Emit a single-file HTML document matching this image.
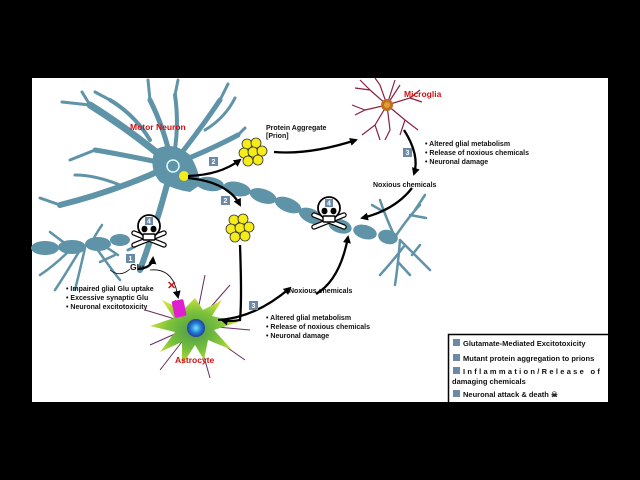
<!DOCTYPE html>
<html><head><style>
body{margin:0;background:#000;}
svg{display:block;font-family:"Liberation Sans",sans-serif;}
</style></head><body>
<svg width="640" height="480" viewBox="0 0 640 480">
<defs>
<marker id="ah" markerWidth="8" markerHeight="8" refX="6" refY="4" orient="auto" markerUnits="userSpaceOnUse"><path d="M0,0 L8,4 L0,8 Z" fill="#000"/></marker>
<radialGradient id="ag" cx="50%" cy="50%" r="50%"><stop offset="0" stop-color="#4a9a4a"/><stop offset="0.6" stop-color="#7cc23a"/><stop offset="1" stop-color="#c8e040"/></radialGradient>
<radialGradient id="nuc" cx="50%" cy="50%" r="50%"><stop offset="0" stop-color="#7ee0ff"/><stop offset="0.6" stop-color="#1a7ad0"/><stop offset="1" stop-color="#2a3a9a"/></radialGradient>
<g id="skull"><path d="M-15,6 L15,18 M-15,18 L15,6" stroke="#000" stroke-width="5.5" stroke-linecap="round"/><path d="M-15,6 L15,18 M-15,18 L15,6" stroke="#fff" stroke-width="3" stroke-linecap="round"/><ellipse cx="0" cy="-1" rx="11" ry="11" fill="#fff" stroke="#000" stroke-width="1.8"/><rect x="-6" y="7" width="12" height="6" rx="1" fill="#fff" stroke="#000" stroke-width="1.4"/><ellipse cx="-4.5" cy="2" rx="3" ry="3.3" fill="#000"/><ellipse cx="4.5" cy="2" rx="3" ry="3.3" fill="#000"/><rect x="-4" y="-10" width="8" height="8" fill="#6a8aa8"/><text x="0" y="-3.5" font-size="7" fill="#fff" text-anchor="middle" font-weight="bold">4</text></g>
<g id="agg" fill="#f5ec1a" stroke="#333" stroke-width="0.8"><circle cx="-6" cy="-8" r="5"/><circle cx="3" cy="-9" r="5"/><circle cx="-9" cy="1" r="5"/><circle cx="0" cy="0" r="5"/><circle cx="9" cy="-1" r="5"/><circle cx="-5" cy="9" r="5"/><circle cx="5" cy="8" r="5"/></g>
</defs>
<rect x="32" y="78" width="576" height="324" fill="#fff"/>
<!-- neuron -->
<g stroke="#5e93a8" fill="none" stroke-linecap="round" stroke-linejoin="round">
<path d="M172,165 Q130,130 90,105" stroke-width="7"/>
<path d="M172,165 Q125,155 95,150" stroke-width="5"/>
<path d="M150,140 Q135,115 110,100" stroke-width="4"/>
<path d="M172,165 Q120,190 60,205" stroke-width="6"/>
<path d="M120,185 Q95,175 75,175" stroke-width="3"/>
<path d="M172,165 Q165,130 150,100" stroke-width="5"/>
<path d="M172,165 Q180,130 175,95" stroke-width="4"/>
<path d="M172,165 Q200,130 220,100" stroke-width="5"/>
<path d="M205,130 Q225,118 235,98" stroke-width="3"/>
<path d="M172,165 Q210,150 238,135" stroke-width="5"/>
<path d="M172,165 Q160,215 140,270" stroke-width="6"/>
<path d="M155,230 Q140,245 128,250" stroke-width="3"/>
<path d="M90,105 L62,102 M95,150 L70,160 M60,205 L40,198 M150,100 L148,80 M175,95 L178,80 M220,100 L228,84 M110,100 L95,92 M90,105 L82,92 M238,135 L245,128" stroke-width="3"/>
<path d="M70,250 Q55,265 40,275 M85,248 Q80,270 75,290 M95,246 Q108,265 120,280 M80,250 Q65,275 55,290 M100,243 L118,255 M72,248 Q60,240 50,232 M90,246 Q95,235 102,225 M100,262 L115,255" stroke-width="2.5"/>
<path d="M395,237 Q410,215 420,205 M400,240 Q418,258 430,270 M400,240 Q398,265 395,285 M405,245 Q392,262 380,275 M395,237 Q386,218 380,200 M415,210 L425,195 M410,215 L426,218 M412,255 L420,245 M398,262 L410,275 M384,212 L372,205" stroke-width="2.5"/>
</g>
<path d="M155,150 Q172,140 190,155 Q200,172 200,185 L190,192 Q175,190 160,182 Q148,168 155,150 Z" fill="#5e93a8"/>
<g fill="#5e93a8">
<ellipse cx="210" cy="184" rx="14" ry="7" transform="rotate(8 210 184)"/>
<ellipse cx="237" cy="189" rx="14" ry="7" transform="rotate(12 237 189)"/>
<ellipse cx="263" cy="196" rx="14" ry="7" transform="rotate(18 263 196)"/>
<ellipse cx="288" cy="205" rx="14" ry="7" transform="rotate(22 288 205)"/>
<ellipse cx="311" cy="216" rx="13" ry="7" transform="rotate(25 311 216)"/>
<ellipse cx="340" cy="226" rx="12" ry="7" transform="rotate(18 340 226)"/>
<ellipse cx="365" cy="232" rx="12" ry="7" transform="rotate(15 365 232)"/>
<ellipse cx="388" cy="237" rx="10" ry="7" transform="rotate(15 388 237)"/>
<ellipse cx="45" cy="248" rx="14" ry="7"/>
<ellipse cx="72" cy="247" rx="14" ry="7"/>
<ellipse cx="98" cy="244" rx="13" ry="7"/>
<ellipse cx="120" cy="240" rx="10" ry="6"/>
</g>
<circle cx="173" cy="166" r="6" fill="none" stroke="#dff" stroke-width="1.5"/>
<circle cx="184" cy="176" r="5" fill="#f5ec1a"/>
<text x="130" y="130" font-size="8.5" font-weight="bold" fill="#d01010">Motor Neuron</text>
<!-- microglia -->
<g stroke="#8a2040" stroke-width="1.2" fill="none">
<path d="M387,105 L370,90 L355,88 M387,105 L380,85 L375,78 M387,105 L400,85 M387,105 L410,98 L420,90 M387,105 L365,110 L355,115 M387,105 L375,125 L362,135 M387,105 L390,130 L385,140 M387,105 L405,120 L418,130 M387,105 L395,80 M370,90 L360,80 M375,125 L380,140 M405,120 L400,135 M365,110 L352,105 M410,98 L422,102"/>
</g>
<circle cx="387" cy="105" r="6" fill="#c07020"/>
<circle cx="387" cy="105" r="3" fill="#e0a030"/>
<text x="404" y="97" font-size="8.5" font-weight="bold" fill="#d01010">Microglia</text>
<!-- astrocyte -->
<g stroke="#6a2a60" stroke-width="1" fill="none">
<path d="M195,325 L145,310 M195,325 L150,345 M195,325 L160,370 M195,325 L210,378 M195,325 L245,360 M195,325 L250,330 M195,325 L230,285 M195,325 L205,275 M195,325 L175,300"/>
</g>
<path d="M195,298 L203,310 L222,300 L212,316 L238,322 L214,330 L232,350 L208,340 L204,360 L195,345 L182,365 L182,342 L160,352 L175,332 L150,326 L174,318 L162,300 L183,310 Z" fill="url(#ag)"/>
<circle cx="196" cy="328" r="9" fill="url(#nuc)"/>
<rect x="173" y="300" width="12" height="17" rx="2" fill="#e020d0" transform="rotate(-12 179 308)"/>
<text x="175" y="363" font-size="8.5" font-weight="bold" fill="#d01010">Astrocyte</text>
<!-- aggregates -->
<use href="#agg" x="253" y="152"/>
<use href="#agg" x="240" y="228"/>
<!-- skulls -->
<use href="#skull" x="149" y="227"/>
<use href="#skull" x="329" y="209"/>
<!-- arrows -->
<g stroke="#000" stroke-width="2.3" fill="none" marker-end="url(#ah)">
<path d="M188,176 Q220,175 240,160"/>
<path d="M188,178 Q228,182 240,205"/>
<path d="M274,152 Q310,155 356,140"/>
<path d="M404,130 Q420,155 414,174"/>
<path d="M412,188 Q395,210 362,218"/>
<path d="M240,245 Q242,300 240,320 Q230,322 222,320" />
<path d="M218,320 Q255,318 290,288"/>
<path d="M316,294 Q340,280 348,237"/>
<path d="M138,269 Q152,268 153,258"/>
</g>
<path d="M110,270 Q120,278 130,269" stroke="#000" stroke-width="0.8" fill="none"/>
<path d="M150,270 Q170,268 176,288 L178,297" stroke="#000" stroke-width="0.8" fill="none" marker-end="url(#ah)"/>
<text x="167" y="289" font-size="11" font-weight="bold" fill="#d01010">✕</text>
<!-- number badges -->
<g font-size="7" font-weight="bold" fill="#fff" text-anchor="middle">
<rect x="126" y="254" width="9" height="9" fill="#6a8aa8"/><text x="130.5" y="261">1</text>
<rect x="209" y="157" width="9" height="9" fill="#6a8aa8"/><text x="213.5" y="164">2</text>
<rect x="221" y="196" width="9" height="9" fill="#6a8aa8"/><text x="225.5" y="203">2</text>
<rect x="403" y="148" width="9" height="9" fill="#6a8aa8"/><text x="407.5" y="155">3</text>
<rect x="249" y="301" width="9" height="9" fill="#6a8aa8"/><text x="253.5" y="308">3</text>
</g>
<g font-size="7" font-weight="bold" fill="#111">
<text x="130" y="270" font-size="8.5">Glu</text>
<text x="266" y="130">Protein Aggregate</text>
<text x="266" y="138">[Prion]</text>
<text x="373" y="187">Noxious chemicals</text>
<text x="289" y="293">Noxious chemicals</text>
<text x="425" y="146">•  Altered glial metabolism</text>
<text x="425" y="155">•  Release of noxious chemicals</text>
<text x="425" y="164">•  Neuronal damage</text>
<text x="266" y="320">•  Altered glial metabolism</text>
<text x="266" y="329">•  Release of noxious chemicals</text>
<text x="266" y="338">•  Neuronal damage</text>
<text x="66" y="291">•  Impaired glial Glu uptake</text>
<text x="66" y="300">•  Excessive synaptic Glu</text>
<text x="66" y="309">•  Neuronal excitotoxicity</text>
</g>
<!-- legend -->
<rect x="448.5" y="334.5" width="162" height="70" fill="#fff" stroke="#000" stroke-width="1.5"/>
<g font-size="7.5" font-weight="bold" fill="#111">
<rect x="453" y="339" width="7" height="7" fill="#6a8aa8"/><text x="463" y="346">Glutamate-Mediated Excitotoxicity</text>
<rect x="453" y="354" width="7" height="7" fill="#6a8aa8"/><text x="463" y="361">Mutant protein aggregation to prions</text>
<rect x="453" y="367" width="7" height="7" fill="#6a8aa8"/><text x="463" y="374" letter-spacing="2.3">Inflammation/Release of</text>
<text x="452" y="384">damaging chemicals</text>
<rect x="453" y="390" width="7" height="7" fill="#6a8aa8"/><text x="463" y="397">Neuronal attack &amp; death ☠</text>
</g>
<rect x="0" y="402" width="640" height="78" fill="#000"/>
<rect x="608" y="78" width="32" height="330" fill="#000"/>
</svg>
</body></html>
